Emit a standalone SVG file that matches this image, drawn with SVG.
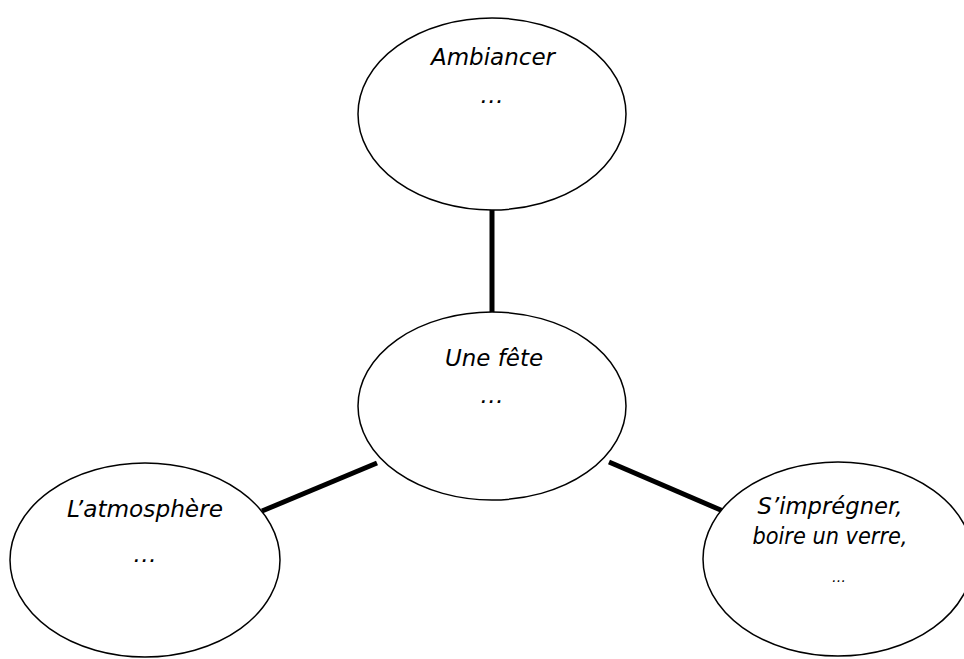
<svg xmlns="http://www.w3.org/2000/svg" width="964" height="659" viewBox="0 0 964 659">
<style>
.n{fill:#fff;stroke:#000;stroke-width:1.5}
.t{font-family:"DejaVu Sans",Verdana,sans-serif;font-style:italic;font-size:23.5px;fill:#000;text-anchor:middle}
.c{stroke:#000;stroke-width:5;fill:none}
</style>
<rect width="964" height="659" fill="#fff"/>
<g id="connectors">
<line class="c" x1="492" y1="210" x2="492" y2="313"/>
<line class="c" x1="377" y1="463" x2="262" y2="511"/>
<line class="c" x1="609" y1="462" x2="723" y2="511"/>
</g>
<g id="ambiancer">
<ellipse class="n" cx="492" cy="114" rx="134" ry="96"/>
<text class="t" x="493" y="65" textLength="124" lengthAdjust="spacingAndGlyphs">Ambiancer</text>
<text class="t" x="492" y="103">…</text>
</g>
<g id="fete">
<ellipse class="n" cx="492" cy="406" rx="134" ry="94"/>
<text class="t" x="494" y="366" textLength="98" lengthAdjust="spacingAndGlyphs">Une fête</text>
<text class="t" x="492" y="403">…</text>
</g>
<g id="atmosphere">
<ellipse class="n" cx="145" cy="560" rx="135" ry="97"/>
<text class="t" x="145" y="517" textLength="156" lengthAdjust="spacingAndGlyphs">L’atmosphère</text>
<text class="t" x="145" y="562">…</text>
</g>
<g id="impregner">
<ellipse class="n" cx="838" cy="559" rx="135" ry="97"/>
<text class="t" x="830" y="514" textLength="145" lengthAdjust="spacingAndGlyphs">S’imprégner,</text>
<text class="t" x="830" y="544" textLength="155" lengthAdjust="spacingAndGlyphs">boire un verre,</text>
<text class="t" x="839" y="582" style="font-size:14px">…</text>
</g>
</svg>
